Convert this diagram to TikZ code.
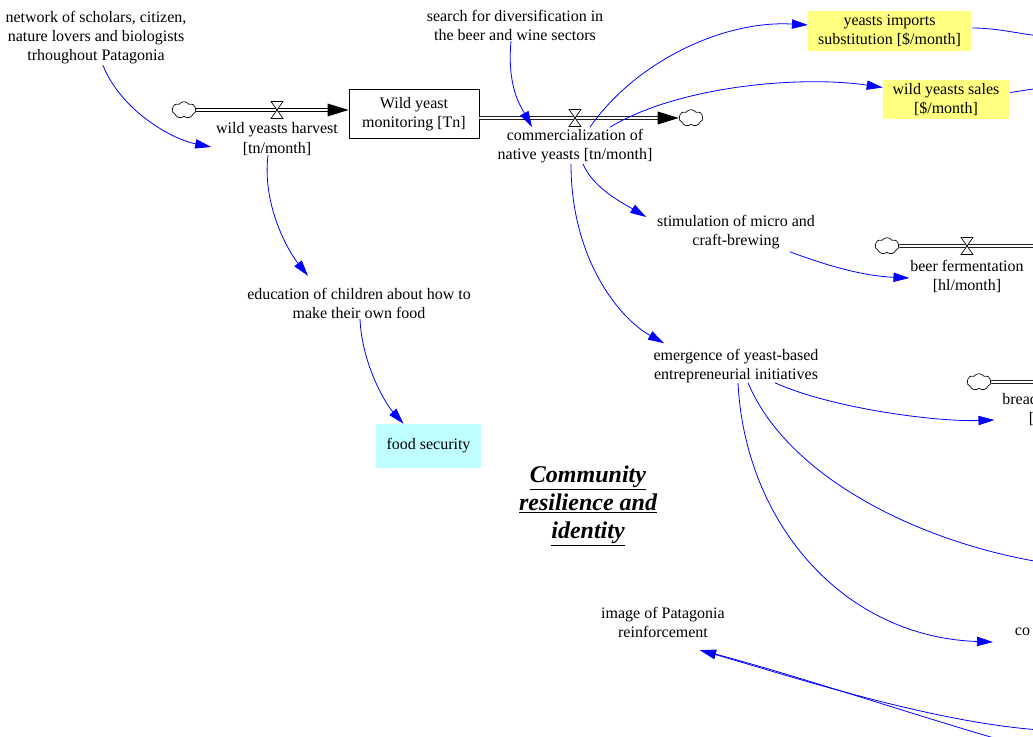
\documentclass[tikz,border=0pt]{standalone}
\usepackage{fontspec}
\setmainfont{Liberation Serif}
\usetikzlibrary{arrows.meta,shapes.symbols,calc}
\definecolor{linkblue}{RGB}{0,0,255}
\definecolor{auxyellow}{RGB}{255,255,128}
\definecolor{auxcyan}{RGB}{192,255,255}
\tikzset{
  valve/.pic={\draw[fill=white,line width=0.5pt] (-6,-8.5)--(6,-8.5)--(-6,8.5)--(6,8.5)--cycle;},
  flowtip/.pic={\fill[black] (0,0)--(-21,-6.5)--(-21,6.5)--cycle;}
}
\begin{document}
\begin{tikzpicture}[x=0.75pt,y=-0.75pt,
  lbl/.style={align=center,font=\fontsize{12}{14.3}\selectfont,inner sep=2pt},
  link/.style={draw=linkblue,line width=0.6pt,-{Triangle[length=12pt,width=7pt]}},
  plainlink/.style={draw=linkblue,line width=0.6pt},
  pipe/.style={draw=black,line width=0.55pt,double=white,double distance=1.7pt},
  cloudsym/.style={cloud,cloud puffs=7,cloud puff arc=110,aspect=1.4,draw,fill=white,
    minimum width=18pt,minimum height=12.5pt,inner sep=0pt,line width=0.5pt},
  stockbox/.style={draw,line width=0.7pt,align=center,font=\fontsize{12}{14.3}\selectfont,
    minimum width=97.5pt,minimum height=37pt,inner sep=0pt},
  auxbox/.style={align=center,font=\fontsize{12}{14.3}\selectfont,inner sep=0pt}
]
\useasboundingbox (0,0) rectangle (1033,737);
\clip (0,0) rectangle (1033,737);

% text variables
\node[lbl] (network) at (96,38) {network of scholars, citizen,\\nature lovers and biologists\\trhoughout Patagonia};
\node[lbl] (search) at (515,25) {search for diversification in\\the beer and wine sectors};
\node[lbl] (harvest) at (277,139) {wild yeasts harvest\\{}[tn/month]};
\node[lbl] (comm) at (575,146) {commercialization of\\native yeasts [tn/month]};
\node[lbl] (stim) at (736,232) {stimulation of micro and\\craft-brewing};
\node[lbl] (beer) at (967,276) {beer fermentation\\{}[hl/month]};
\node[lbl] (emerg) at (736,366) {emergence of yeast-based\\entrepreneurial initiatives};
\node[lbl] (bread) at (1063,409) {bread fermentation\\{}[hl/month]};
\node[lbl,anchor=west] (coop) at (1012,632) {co};
\node[lbl] (image) at (663,622) {image of Patagonia\\reinforcement};
\node[lbl] (educ) at (359,303) {education of children about how to\\make their own food};
\node[align=center,font=\bfseries\itshape\fontsize{18}{20.8}\selectfont] (community) at (588,506)
  {\underline{Community}\\\underline{resilience and}\\\underline{identity}};

% stock and highlighted variables
\node[stockbox] (stock) at (414,114) {Wild yeast\\monitoring [Tn]};
\node[auxbox,fill=auxyellow,minimum width=122pt,minimum height=30pt] (imports) at (889.5,31) {yeasts imports\\substitution [\$/month]};
\node[auxbox,fill=auxyellow,minimum width=94.5pt,minimum height=29pt] (sales) at (946,99.5) {wild yeasts sales\\{}[\$/month]};
\node[auxbox,fill=auxcyan,minimum width=79pt,minimum height=33pt] (food) at (428.5,446) {food security};

% sources and sinks
\node[cloudsym] (cloudA) at (184,110) {};
\node[cloudsym] (cloudB) at (691,118) {};
\node[cloudsym] (cloudC) at (887,246) {};
\node[cloudsym] (cloudD) at (979,382) {};

% flows
\draw[pipe] (cloudA.east) -- ($(cloudA.east -| stock.west)+(-16,0)$);
\pic at (cloudA.east -| stock.west) {flowtip};
\pic at (277,110) {valve};

\draw[pipe] (stock.east |- cloudB) -- ($(cloudB.west)+(-16,0)$);
\pic at (cloudB.west) {flowtip};
\pic at (575,118) {valve};

\coordinate (beerend) at (1040,246);
\draw[pipe] (cloudC.east) -- (beerend);
\pic at (967,246) {valve};

\coordinate (breadend) at (1040,382);
\draw[pipe] (cloudD.east) -- (breadend);

% causal links
\draw[link] ([shift={(7,-2)}]network.south) .. controls +(18,45) and +(-40,-8) .. ([shift={(-2,8)}]harvest.west);
\draw[link] ([shift={(-4,-2)}]search.south) .. controls +(-4,45) and +(-12,-22) .. ([shift={(-43,1)}]comm.north);
\draw[link] ([shift={(15,1)}]comm.north) .. controls +(45,-65) and +(-85,-5) .. ([shift={(0,-6)}]imports.west);
\draw[link] ([shift={(35,1)}]comm.north) .. controls +(70,-42) and +(-80,-12) .. ([shift={(0,-12)}]sales.west);
\coordinate (importsout) at (1040,36);
\draw[plainlink] ([shift={(1,-3)}]imports.east) .. controls +(25,0) and +(-20,-2) .. (importsout);
\coordinate (salesout) at (1040,88);
\draw[plainlink] ([shift={(1,-7)}]sales.east) -- (salesout);
\draw[link] ([shift={(8,-2)}]comm.south) .. controls +(10,25) and +(-20,-12) .. ([shift={(-8,-15)}]stim.west);
\draw[link] ([shift={(54,0)}]stim.south) .. controls +(40,15) and +(-45,-2) .. ([shift={(2,2)}]beer.west);
\draw[link] ([shift={(-4,-2)}]comm.south) .. controls +(0,95) and +(-45,-25) .. ([shift={(-72,-3)}]emerg.north);
\draw[link] ([shift={(39,-3)}]emerg.south) .. controls +(55,25) and +(-60,2) .. ([shift={(-5,11)}]bread.west);
\coordinate (emergout) at (1040,562);
\draw[plainlink] ([shift={(12,-3)}]emerg.south) .. controls +(40,95) and +(-120,-20) .. (emergout);
\draw[link] ([shift={(2,-3)}]emerg.south) .. controls +(7,140) and +(-150,-5) .. ([shift={(-19,10)}]coop.west);
\coordinate (imgsrcA) at (1040,730);
\coordinate (imgsrcB) at (1040,751);
\draw[link] (imgsrcA) .. controls (930,722) and (790,676) .. ([shift={(37,10)}]image.south);
\draw[link] (imgsrcB) .. controls (940,724) and (800,676) .. ([shift={(37,10)}]image.south);
\draw[link] ([shift={(-9,-3)}]harvest.south) .. controls +(-6,50) and +(-20,-25) .. ([shift={(-51,-9)}]educ.north);
\draw[link] ([shift={(1,-2)}]educ.south) .. controls +(2,45) and +(-18,-20) .. ([shift={(-25,0)}]food.north);
\end{tikzpicture}
\end{document}
